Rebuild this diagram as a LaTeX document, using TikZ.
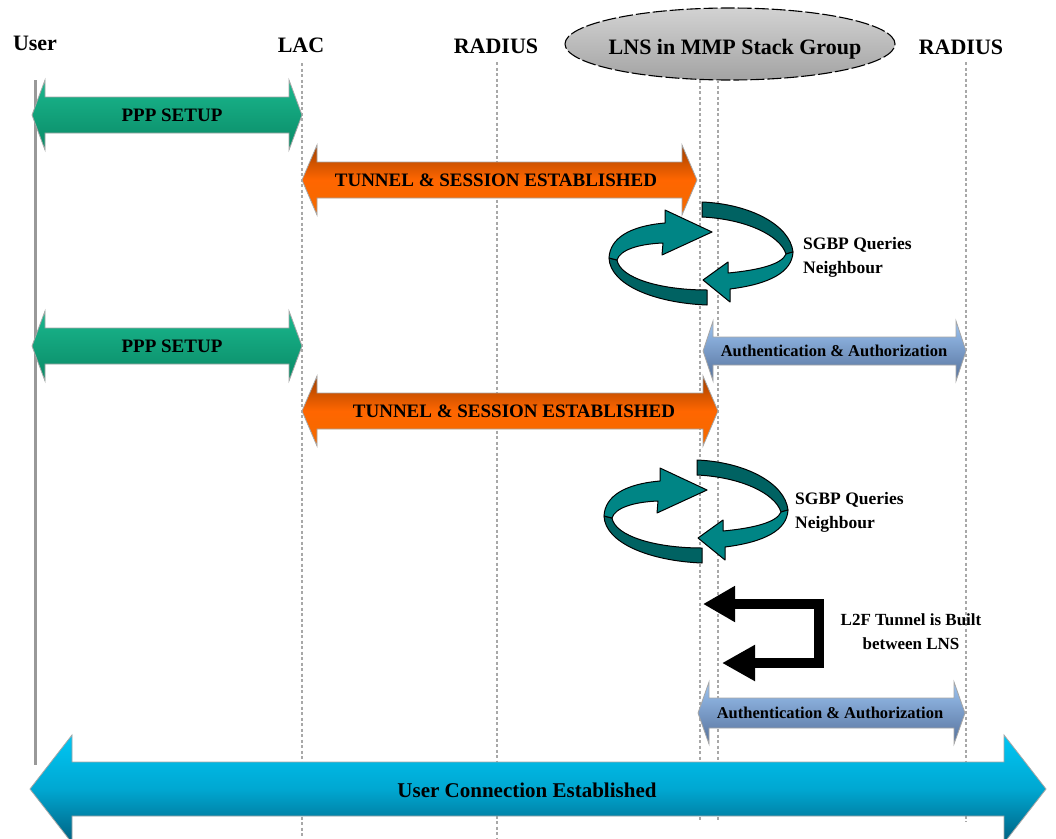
\documentclass[tikz,border=0pt]{standalone}
\usepackage{fontspec}
\setmainfont{Liberation Serif}
\usetikzlibrary{arrows.meta,calc,shapes.geometric}
\definecolor{pppTop}{HTML}{1AB88E}
\definecolor{pppBot}{HTML}{0A8A66}
\definecolor{tunTop}{HTML}{A04000}
\definecolor{tunBot}{HTML}{F26A00}
\definecolor{authTop}{HTML}{9CC4F2}
\definecolor{authBot}{HTML}{55709A}
\definecolor{ucTop}{HTML}{00C6F4}
\definecolor{ucBot}{HTML}{006080}
\definecolor{tealL}{HTML}{008585}
\definecolor{tealD}{HTML}{006262}
\definecolor{lifeC}{HTML}{A8A8A8}
% #1 x1, #2 x2, #3 yc, #4 half body, #5 half head, #6 head length, #7 style
\newcommand\blockarrow[7]{%
  \path[#7] (#1,#3) -- (#1+#6,#3-#5) -- (#1+#6,#3-#4) -- (#2-#6,#3-#4) -- (#2-#6,#3-#5)
    -- (#2,#3) -- (#2-#6,#3+#5) -- (#2-#6,#3+#4) -- (#1+#6,#3+#4) -- (#1+#6,#3+#5) -- cycle;}
\begin{document}
\begin{tikzpicture}[x=1pt,y=-1pt,
  hdr/.style={font=\fontsize{22}{26}\selectfont\bfseries, inner sep=0pt},
  lbl/.style={font=\fontsize{19}{22}\selectfont\bfseries, inner sep=0pt},
  alabel/.style={font=\fontsize{16.5}{20}\selectfont\bfseries, inner sep=0pt},
  side/.style={font=\fontsize{17.5}{24}\selectfont\bfseries, inner sep=0pt},
  life/.style={draw=lifeC, line width=1.5pt, dash pattern=on 3pt off 2.5pt},
  edge/.style={draw=gray!70, line width=0.8pt},
  pppshape/.style={edge, top color=pppTop, bottom color=pppBot},
  tunshape/.style={edge, top color=tunTop, bottom color=tunBot, middle color=orange!80!red},
  authshape/.style={edge, top color=authTop, bottom color=authBot},
  ucshape/.style={edge, top color=ucTop, bottom color=ucBot, middle color=ucTop!70!ucBot},
  ribL/.style={draw=black, line width=1pt, fill=tealL, line join=round},
  ribD/.style={draw=black, line width=1pt, fill=tealD, line join=round},
  l2f/.style={draw=black, line width=10.5pt, line join=miter,
    {Triangle[length=32pt,width=34pt]}-{Triangle[length=33pt,width=34pt]}},
  sgbp/.pic={
    \path[ribD] (0,-50) .. controls (48,-48) and (88,-27) .. (91,0) -- (84,2)
      .. controls (78,-17) and (43,-33) .. (0,-35) -- cycle;
    \path[ribL] (91,0) .. controls (90,20) and (68,32) .. (28,37) -- (28,50) -- (1,28)
      -- (26,10) -- (26,21) .. controls (58,18) and (80,12) .. (84,2) -- cycle;
    \path[ribD] (-93,6) .. controls (-92,33) and (-47,51) .. (5,53) -- (5,38)
      .. controls (-42,38) and (-82,26) .. (-85,8) -- cycle;
    \path[ribL] (-93,6) .. controls (-92,-14) and (-72,-26) .. (-37,-29) -- (-37,-42)
      -- (10,-20) -- (-40,3) -- (-39,-9) .. controls (-64,-8) and (-82,-2) .. (-85,8) -- cycle;
  }
]
\useasboundingbox (0,0) rectangle (1056,838);
\fill[white] (0,0) rectangle (1056,838);

% headers
\node[hdr] (user) at (35,43) {User};
\node[hdr] (lac) at (301,45) {LAC};
\node[hdr] (rad1) at (496,46) {RADIUS};
\node[ellipse, minimum width=330pt, minimum height=72pt, inner sep=0pt, draw=black, line width=1.1pt,
  dash pattern=on 14pt off 3pt, top color=gray!35, bottom color=gray!72] (lns) at (730,44) {};
\node[hdr] (lnst) at (735,49) {LNS in MMP Stack Group};
\node[hdr] (rad2) at (961,47) {RADIUS};

% lifelines
\coordinate (userT) at (35,80);   \coordinate (userB) at (35,765);
\coordinate (lacT) at (302,63);   \coordinate (lacB) at (302,838);
\coordinate (rad1T) at (497,62);  \coordinate (rad1B) at (497,838);
\coordinate (lnsaT) at (700,80);  \coordinate (lnsaB) at (700,822);
\coordinate (lnsbT) at (718,80);  \coordinate (lnsbB) at (718,822);
\coordinate (rad2T) at (966,62);  \coordinate (rad2B) at (966,822);
\draw[draw=gray!80, line width=3pt] (userT) -- (userB);
\draw[life] (lacT) -- (lacB);
\draw[life] (rad1T) -- (rad1B);
\draw[life] (lnsaT) -- (lnsaB);
\draw[life] (lnsbT) -- (lnsbB);
\draw[life] (rad2T) -- (rad2B);

% block arrows
\blockarrow{32}{302}{115}{18}{35}{13}{pppshape}
\node[lbl] (ppp1) at (172,115) {PPP SETUP};
\blockarrow{302}{697}{180}{18}{35}{15}{tunshape}
\node[lbl] (tun1) at (496,180) {TUNNEL \& SESSION ESTABLISHED};

\pic at (702,252) {sgbp};
\node[side, anchor=west, align=left] (q1) at (803,257) {SGBP Queries\\Neighbour};

\blockarrow{32}{302}{346}{18}{35}{13}{pppshape}
\node[lbl] (ppp2) at (172,346) {PPP SETUP};
\blockarrow{703}{966}{351}{14}{30}{10}{authshape}
\node[alabel] (auth1) at (834,351) {Authentication \& Authorization};
\blockarrow{302}{718}{411}{18}{35}{15}{tunshape}
\node[lbl] (tun2) at (514,411) {TUNNEL \& SESSION ESTABLISHED};

\pic at (697,510) {sgbp};
\node[side, anchor=west, align=left] (q2) at (795,512) {SGBP Queries\\Neighbour};

% L2F tunnel
\coordinate (l2fA) at (703,604);
\coordinate (l2fC1) at (819,604);
\coordinate (l2fC2) at (819,663);
\coordinate (l2fB) at (722,663);
\draw[l2f] (l2fA) -- (l2fC1) -- (l2fC2) -- (l2fB);
\node[side, align=center, font=\fontsize{17}{24}\selectfont\bfseries] (l2ft) at (911,632) {L2F Tunnel is Built\\between LNS};

\blockarrow{698}{965}{713}{15}{31}{11}{authshape}
\node[alabel] (auth2) at (830,713) {Authentication \& Authorization};

\blockarrow{30}{1046}{789}{27}{54}{42}{ucshape}
\node[hdr, font=\fontsize{21}{24}\selectfont\bfseries] (uc) at (527,790) {User Connection Established};
\end{tikzpicture}
\end{document}
